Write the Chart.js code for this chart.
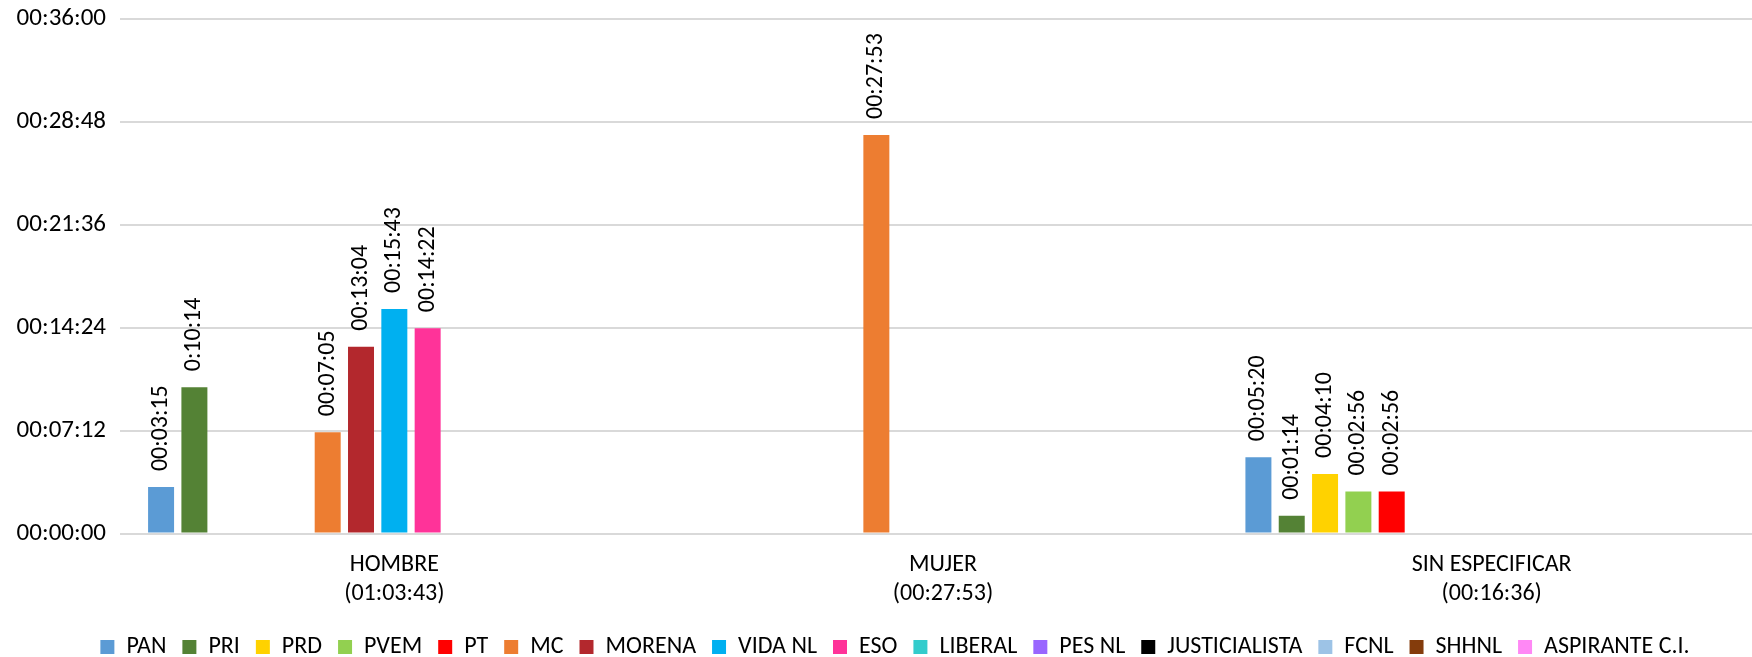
<!DOCTYPE html>
<html>
<head>
<meta charset="utf-8">
<script src="https://cdn.jsdelivr.net/npm/chart.js@4.4.1/dist/chart.umd.min.js"></script>
<style>
  html, body { margin: 0; padding: 0; background: #fff; overflow: hidden; }
  canvas { display: block; }
</style>
</head>
<body>
<canvas id="chart" width="1766" height="669"></canvas>
<script>
// Airtime by gender and party (values as shown on the bars, hh:mm:ss)
const categories = [
  ['HOMBRE', '(01:03:43)'],
  ['MUJER', '(00:27:53)'],
  ['SIN ESPECIFICAR', '(00:16:36)']
];

const seriesNames = ['PAN', 'PRI', 'PRD', 'PVEM', 'PT', 'MC', 'MORENA', 'VIDA NL', 'ESO',
  'LIBERAL', 'PES NL', 'JUSTICIALISTA', 'FCNL', 'SHHNL', 'ASPIRANTE C.I.'];

const seriesColors = ['#5b9bd5', '#548235', '#ffd200', '#92d050', '#ff0000', '#ed7d31', '#b3282d',
  '#00b0f0', '#ff3399', '#33cccc', '#9966ff', '#000000', '#9dc3e6', '#843c0c', '#ff88f5'];

// one array per party: [HOMBRE, MUJER, SIN ESPECIFICAR]
const PAN        = ['00:03:15', null, '00:05:20'];
const PRI        = ['0:10:14', null, '00:01:14'];
const PRD        = [null, null, '00:04:10'];
const PVEM       = [null, null, '00:02:56'];
const PT         = [null, null, '00:02:56'];
const MC         = ['00:07:05', '00:27:53', null];
const MORENA     = ['00:13:04', null, null];
const VIDA_NL    = ['00:15:43', null, null];
const ESO        = ['00:14:22', null, null];
const LIBERAL    = [null, null, null];
const PES_NL     = [null, null, null];
const JUSTICIALISTA = [null, null, null];
const FCNL       = [null, null, null];
const SHHNL      = [null, null, null];
const ASPIRANTE  = [null, null, null];

const seriesValues = [PAN, PRI, PRD, PVEM, PT, MC, MORENA, VIDA_NL, ESO,
  LIBERAL, PES_NL, JUSTICIALISTA, FCNL, SHHNL, ASPIRANTE];

// y axis: 0 to 00:36:00 every 00:07:12
const yMax = '00:36:00';
const yStep = '00:07:12';

const FONT = 'Carlito, Calibri, Lato, sans-serif';

function toSec(t) {
  if (!t) return null;
  const p = t.split(':').map(Number);
  return p[0] * 3600 + p[1] * 60 + p[2];
}

function fmt(sec) {
  const pad = n => String(n).padStart(2, '0');
  const h = Math.floor(sec / 3600), m = Math.floor(sec % 3600 / 60), s = Math.round(sec % 60);
  return pad(h) + ':' + pad(m) + ':' + pad(s);
}

// rotated value labels above each bar
const barLabels = {
  id: 'barLabels',
  afterDatasetsDraw(chart) {
    const ctx = chart.ctx;
    ctx.save();
    ctx.font = '24px ' + FONT;
    ctx.fillStyle = '#000';
    ctx.textAlign = 'left';
    ctx.textBaseline = 'middle';
    chart.data.datasets.forEach((ds, i) => {
      const meta = chart.getDatasetMeta(i);
      meta.data.forEach((bar, j) => {
        const txt = ds.labelText[j];
        if (!txt) return;
        ctx.save();
        ctx.translate(bar.x, bar.y - 16);
        ctx.rotate(-Math.PI / 2);
        ctx.fillText(txt, 0, 0);
        ctx.restore();
      });
    });
    ctx.restore();
  }
};

// legend in the original sits a little right of the canvas centre
const legendShift = {
  id: 'legendShift',
  afterLayout(chart) {
    chart.legend.left += 12;
    chart.legend.right += 12;
  }
};

Chart.defaults.font.family = FONT;
Chart.defaults.font.size = 24;
Chart.defaults.color = '#000';

const datasets = seriesNames.map((name, i) => ({
  label: name,
  data: seriesValues[i].map(toSec),
  labelText: seriesValues[i],
  backgroundColor: seriesColors[i],
  categoryPercentage: 0.911,
  barPercentage: 0.78
}));

new Chart(document.getElementById('chart'), {
  type: 'bar',
  data: { labels: categories, datasets },
  plugins: [barLabels, legendShift],
  options: {
    responsive: false,
    animation: false,
    layout: { padding: { top: 19, left: 0, right: 0, bottom: 0 } },
    plugins: {
      tooltip: { enabled: false },
      legend: {
        position: 'bottom',
        labels: {
          boxWidth: 14,
          boxHeight: 14,
          padding: 16,
          color: '#000',
          font: { size: 24 }
        }
      }
    },
    scales: {
      x: {
        grid: { display: false, drawTicks: false },
        border: { display: false },
        ticks: { padding: 17, font: { size: 24 }, maxRotation: 0 },
        afterFit: s => { s.height = 85.5; }
      },
      y: {
        min: 0,
        max: toSec(yMax),
        grid: { color: '#d9d9d9', lineWidth: 2, drawTicks: false },
        border: { display: false },
        ticks: {
          stepSize: toSec(yStep),
          padding: 14,
          font: { size: 25 },
          callback: v => fmt(v)
        },
        afterFit: s => {
          s.width = 120;
          s.paddingTop = 0;
          s.paddingBottom = 0;
        }
      }
    }
  }
});
</script>
</body>
</html>
